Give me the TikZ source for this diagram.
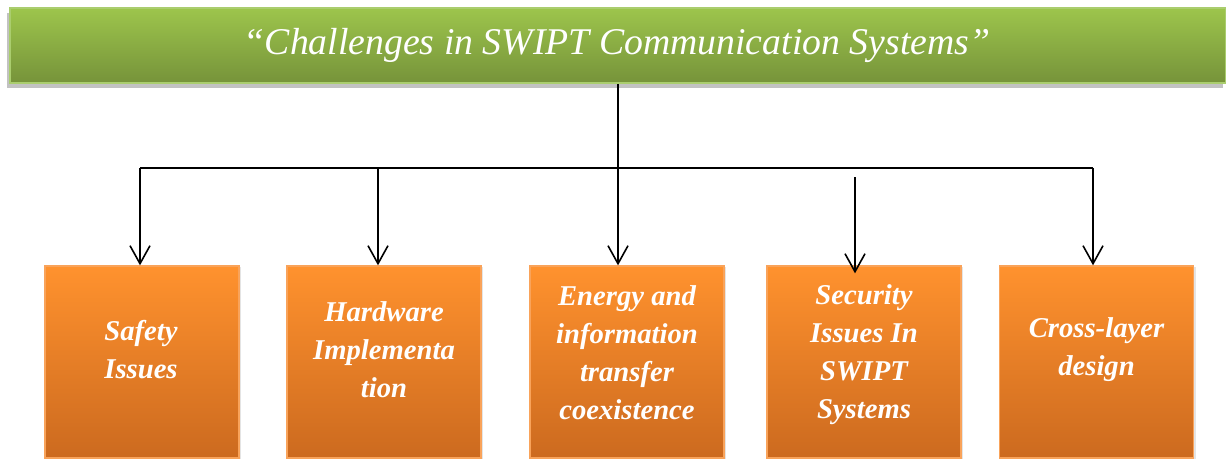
\documentclass[tikz,border=0pt]{standalone}
\usepackage{fontspec}
\setmainfont{Liberation Serif}
\usetikzlibrary{arrows.meta,shadows}

\definecolor{greentop}{HTML}{9DC54C}
\definecolor{greenbot}{HTML}{76933A}
\definecolor{greenedge}{HTML}{AACD6E}
\definecolor{orangetop}{HTML}{FF922E}
\definecolor{orangebot}{HTML}{CC6A1F}
\definecolor{orangeedge}{HTML}{F9A35A}

\tikzset{
  headbox/.style={draw=greenedge, line width=1.2pt, top color=greentop, bottom color=greenbot,
    minimum width=1216*0.75pt, minimum height=75*0.75pt,
    drop shadow={shadow xshift=-2pt, shadow yshift=-4pt, fill=black!40, opacity=.6}},
  headtext/.style={text=white, font=\itshape\fontsize{28.3}{34}\selectfont},
  itembox/.style={draw=orangeedge, line width=1pt, top color=orangetop, bottom color=orangebot,
    minimum width=194*0.75pt, minimum height=192*0.75pt,
    drop shadow={shadow xshift=1.5pt, shadow yshift=-1pt, fill=black!30, opacity=.35}},
  itemtext/.style={text=white, align=center, font=\bfseries\itshape\fontsize{21.5}{28.5}\selectfont},
  link/.style={line width=1.3pt},
  arr/.style={line width=1.2pt, -{Straight Barb[length=13.5pt,width=15pt,line width=1.2pt]}}
}

\begin{document}
\begin{tikzpicture}[x=0.75pt,y=0.75pt]
  \useasboundingbox (0,0) rectangle (1226,460);
  % header
  \node[headbox] (title) at (618,414.5) {};
  \node[headtext] (title-t) at (617,415) {“Challenges in SWIPT Communication Systems”};
  % the five challenges
  \node[itembox] (safety) at (142,98) {};
  \node[itembox] (hardware) at (384,98) {};
  \node[itembox] (coexist) at (627,98) {};
  \node[itembox] (security) at (864,98) {};
  \node[itembox] (crosslayer) at (1096.5,98) {};
  \node[itemtext] (safety-t) at (141,110) {Safety\\Issues};
  \node[itemtext] (hardware-t) at (384,110) {Hardware\\Implementa\\tion};
  \node[itemtext] (coexist-t) at (627,107) {Energy and\\information\\transfer\\coexistence};
  \node[itemtext] (security-t) at (864,105) {Security\\Issues In\\SWIPT\\Systems};
  \node[itemtext] (crosslayer-t) at (1096.5,110) {Cross-layer\\design};
  % drop points on the bus
  \coordinate (d1) at (140,292);
  \coordinate (d2) at (378,292);
  \coordinate (d3) at (618,292);
  \coordinate (d4) at (855,292);
  \coordinate (d5) at (1093,292);
  % connectors
  \draw[link] (title.south -| d3) -- (d3);
  \draw[link] (d1) -- (d5);
  \draw[arr] (d1) -- (d1 |- safety.north);
  \draw[arr] (d2) -- (d2 |- hardware.north);
  \draw[arr] (d3) -- (d3 |- coexist.north);
  \draw[arr] ([yshift=-7]d4) -- ([yshift=-6]d4 |- security.north);
  \draw[arr] (d5) -- (d5 |- crosslayer.north);
\end{tikzpicture}
\end{document}
